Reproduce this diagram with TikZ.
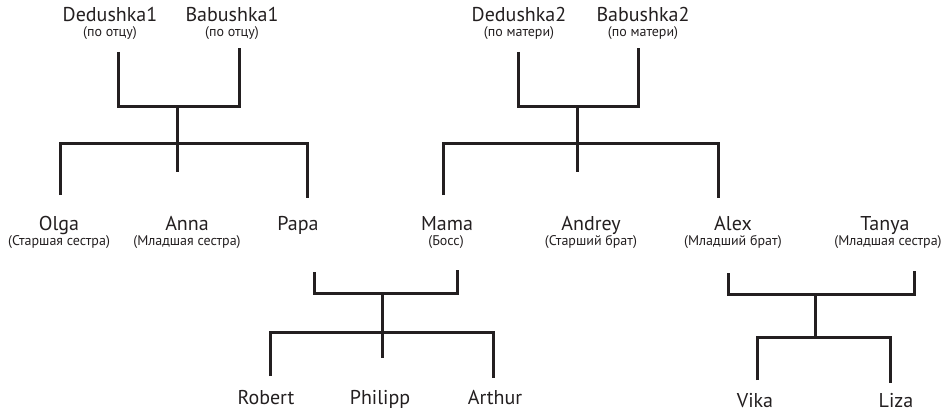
\documentclass[tikz,border=0pt]{standalone}
\usepackage{fontspec}
\setmainfont{PT Sans}
\definecolor{ink}{RGB}{35,31,32}
\begin{document}
\begin{tikzpicture}[x=1pt,y=-1pt,
  line/.style={draw=ink,line width=3pt},
  person/.style={anchor=base,inner sep=0pt,text=ink,font=\fontsize{20}{24}\selectfont},
  role/.style={anchor=base,inner sep=0pt,text=ink,font=\fontsize{14}{16}\selectfont}]
\useasboundingbox (0,0) rectangle (950,412);

% grandparents
\node[person] (d1) at (110,22) {Dedushka1};
\node[role]   (d1r) at (110,37) {(по отцу)};
\node[person] (b1) at (232,22) {Babushka1};
\node[role]   (b1r) at (232,37) {(по отцу)};
\node[person] (d2) at (519,22) {Dedushka2};
\node[role]   (d2r) at (519,37) {(по матери)};
\node[person] (b2) at (643,22) {Babushka2};
\node[role]   (b2r) at (643,37) {(по матери)};

% second generation
\node[person] (olga) at (59,230) {Olga};
\node[role]   (olgar) at (59,245) {(Старшая сестра)};
\node[person] (anna) at (187,230) {Anna};
\node[role]   (annar) at (187,245) {(Младшая сестра)};
\node[person] (papa) at (298,230) {Papa};
\node[person] (mama) at (447,230) {Mama};
\node[role]   (mamar) at (446,245) {(Босс)};
\node[person] (andrey) at (591,230) {Andrey};
\node[role]   (andreyr) at (591,245) {(Старший брат)};
\node[person] (alex) at (733,230) {Alex};
\node[role]   (alexr) at (733,245) {(Младший брат)};
\node[person] (tanya) at (885,230) {Tanya};
\node[role]   (tanyar) at (888,245) {(Младшая сестра)};

% third generation
\node[person] (robert) at (266,404) {Robert};
\node[person] (philipp) at (380,404) {Philipp};
\node[person] (arthur) at (495,404) {Arthur};
\node[person] (vika) at (755,407) {Vika};
\node[person] (liza) at (896,407) {Liza};

% line ends and junctions
\coordinate (d1t) at (118,52);
\coordinate (b1t) at (239,48);
\coordinate (j1) at (177,106);
\coordinate (k1) at (177,143);
\coordinate (anna t) at (177,172);
\coordinate (olga t) at (60,195);
\coordinate (papa t) at (307,198);

\coordinate (d2t) at (518,52);
\coordinate (b2t) at (638,48);
\coordinate (j2) at (577,106);
\coordinate (k2) at (577,143);
\coordinate (andrey t) at (577,172);
\coordinate (mama t) at (443,195);
\coordinate (alex t) at (718,198);

\coordinate (papa b) at (314,272);
\coordinate (mama b) at (457,270);
\coordinate (j3) at (382,293);
\coordinate (k3) at (382,332);
\coordinate (philipp t) at (382,358);
\coordinate (robert t) at (270,376);
\coordinate (arthur t) at (493,378);

\coordinate (alex b) at (728,273);
\coordinate (tanya b) at (914,271);
\coordinate (j4) at (815,294);
\coordinate (k4) at (815,337);
\coordinate (vika t) at (757,380);
\coordinate (liza t) at (890,383);

% father's side
\draw[line] (d1t) -- (d1t |- j1) -- (b1t |- j1) -- (b1t);
\draw[line] (j1) -- (anna t);
\draw[line] (olga t) -- (olga t |- k1) -- (papa t |- k1) -- (papa t);

% mother's side
\draw[line] (d2t) -- (d2t |- j2) -- (b2t |- j2) -- (b2t);
\draw[line] (j2) -- (andrey t);
\draw[line] (mama t) -- (mama t |- k2) -- (alex t |- k2) -- (alex t);

% Papa and Mama
\draw[line] (papa b) -- (papa b |- j3) -- (mama b |- j3) -- (mama b);
\draw[line] (j3) -- (philipp t);
\draw[line] (robert t) -- (robert t |- k3) -- (arthur t |- k3) -- (arthur t);

% Alex and Tanya
\draw[line] (alex b) -- (alex b |- j4) -- (tanya b |- j4) -- (tanya b);
\draw[line] (j4) -- (k4);
\draw[line] (vika t) -- (vika t |- k4) -- (liza t |- k4) -- (liza t);
\end{tikzpicture}
\end{document}
